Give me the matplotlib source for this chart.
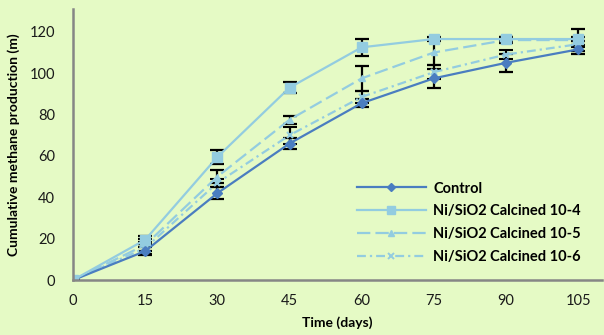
import matplotlib.pyplot as plt
import numpy as np
from matplotlib.lines import Line2D

plt.rcParams['font.family'] = ['Lato', 'DejaVu Sans']

# time points (days)
days = [0, 15, 30, 45, 60, 75, 90, 105]

# cumulative methane production
control = [0, 14, 42, 66, 85.5, 97.5, 105, 111.5]
ni_4 = [0, 19.5, 59.5, 93, 112.5, 116.5, 116.5, 116.5]
ni_5 = [0, 17, 50, 77.5, 97.5, 110, 116, 116]
ni_6 = [0, 15.5, 47, 70, 88.5, 100.5, 109, 114]

# error bars
control_err = [0, 2, 3, 2.5, 2, 4.5, 4.5, 2]
ni_4_err = [0, 2, 3.5, 2.5, 4, 1, 1, 1]
ni_5_err = [0, 3, 3, 2, 6, 6, 1.5, 5.5]
ni_6_err = [0, 3, 2, 4, 3, 3.5, 2, 1.5]

labels = ['Control', 'Ni/SiO2 Calcined 10-4', 'Ni/SiO2 Calcined 10-5', 'Ni/SiO2 Calcined 10-6']

bg = '#E5FAC5'
dark = '#4A7DC0'
light = '#93CCE0'
dash5 = (0, (6, 2.3))
dash6 = (0, (4, 1.8, 1, 1.8))

fig = plt.figure(figsize=(6.04, 3.35), dpi=100, facecolor=bg)
ax = fig.add_axes([0.121, 0.164, 0.876, 0.809], facecolor=bg)

err_kw = dict(ecolor='black', elinewidth=1.6, capsize=5, capthick=1.6, zorder=2)

ax.errorbar(days, ni_6, yerr=ni_6_err, color=light, lw=1.6, ls=dash6,
            marker='x', ms=4.5, mew=1.5, **err_kw)
ax.errorbar(days, ni_5, yerr=ni_5_err, color=light, lw=1.6, ls=dash5,
            marker='^', ms=5, **err_kw)
ax.errorbar(days, control, yerr=control_err, color=dark, lw=1.6,
            marker='D', ms=5, **err_kw)
ax.errorbar(days, ni_4, yerr=ni_4_err, color=light, lw=1.6,
            marker='s', ms=6.5, **err_kw)

ax.set_xlim(0, 110)
ax.set_ylim(0, 131)
ax.set_xticks(np.arange(0, 106, 15))
ax.set_yticks(np.arange(0, 121, 20))
ax.tick_params(length=0, labelsize=10.5, colors='#1a1a1a')
ax.tick_params(axis='x', pad=10)
ax.tick_params(axis='y', pad=13)
for s in ['top', 'right']:
    ax.spines[s].set_visible(False)
for s in ['left', 'bottom']:
    ax.spines[s].set_color('#868686')
    ax.spines[s].set_linewidth(1.8)

ax.set_xlabel('Time (days)', fontsize=10, fontweight='bold', labelpad=6)
ax.set_ylabel('Cumulative methane production (m)', fontsize=10, fontweight='bold', labelpad=7)

handles = [
    Line2D([], [], color=dark, lw=1.6, marker='D', ms=4),
    Line2D([], [], color=light, lw=1.6, marker='s', ms=5.5),
    Line2D([], [], color=light, lw=1.6, ls=dash5, marker='^', ms=4),
    Line2D([], [], color=light, lw=1.6, ls=dash6, marker='x', ms=4, mew=1.4),
]
ax.legend(handles, labels, loc='lower left', bbox_to_anchor=(0.537, 0.06), frameon=False,
          borderpad=0, borderaxespad=0, handlelength=4.7,
          prop={'weight': 'bold', 'size': 10.5}, labelspacing=0.6, handletextpad=0.5)

fig.savefig('out.png', dpi=100, facecolor=bg)
